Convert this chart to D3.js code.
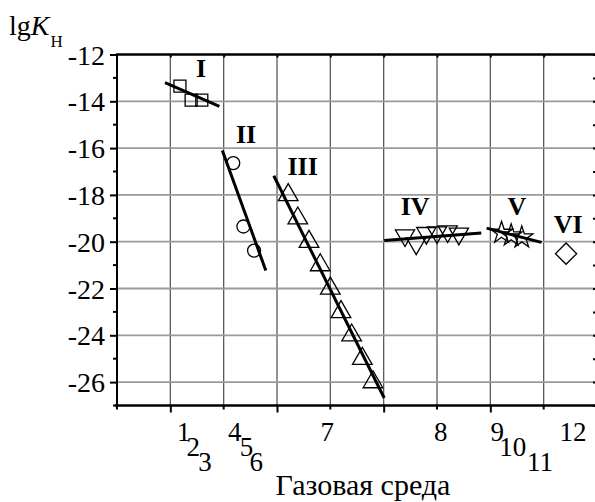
<!DOCTYPE html>
<html>
<head>
<meta charset="utf-8">
<script src="https://cdn.jsdelivr.net/npm/d3@7"></script>
<style>
  html, body { margin: 0; padding: 0; background: #fff; overflow: hidden; }
  text { font-family: "Liberation Serif", "Times New Roman", serif; fill: #000; }
</style>
</head>
<body>
<svg id="chart"></svg>
<script>
const width = 595;
const height = 502;
const serif = "Liberation Serif, Times New Roman, serif";

// data
const yTicks = [-12, -14, -16, -18, -20, -22, -24, -26];
const xTickLabels = ["1", "2", "3", "4", "5", "6", "7", "8", "9", "10", "11", "12"];
const xTickPos = [1.25, 1.43, 1.65, 2.21, 2.43, 2.61, 3.94, 6.07, 7.13, 7.42, 7.93, 8.55];
const xTickRow = [0, 1, 2, 0, 1, 2, 0, 0, 0, 1, 2, 0];

const groupNames = ["I", "II", "III", "IV", "V", "VI"];
const groupLabelX = [1.575, 2.42, 3.48, 5.59, 7.50, 8.46];
const groupLabelY = [-12.95, -15.77, -17.15, -18.86, -18.86, -19.64];

const xI = [1.18, 1.39, 1.59];
const yI = [-13.35, -13.95, -13.95];
const xII = [2.18, 2.37, 2.57];
const yII = [-16.64, -19.35, -20.38];
const xIII = [3.21, 3.39, 3.60, 3.81, 4.00, 4.20, 4.40, 4.60, 4.80];
const yIII = [-18, -19, -20, -21, -22, -23, -24, -25, -26];
const xIV = [5.40, 5.61, 5.80, 6.00, 6.20, 6.41];
const yIV = [-19.73, -20.08, -19.63, -19.60, -19.56, -19.66];
const xV = [7.21, 7.39, 7.59];
const yV = [-19.62, -19.73, -19.82];
const xVI = [8.42];
const yVI = [-20.51];

// fitted lines: [x0, y0, x1, y1]
const fitI = [0.90, -13.20, 1.92, -14.22];
const fitII = [1.975, -16.10, 2.79, -21.23];
const fitIII = [2.94, -17.18, 5.01, -26.68];
const fitIV = [5.01, -19.95, 6.83, -19.63];
const fitV = [6.93, -19.42, 7.96, -20.03];

const svg = d3.select("#chart").attr("width", width).attr("height", height);

const x = d3.scaleLinear().domain([0, 9]).range([117, 597]);
const y = d3.scaleLinear().domain([-27, -12]).range([405.5, 54.5]);

// grid
const grid = svg.append("g");
grid.selectAll("line.v")
  .data(d3.range(1, 9))
  .enter().append("line")
  .attr("x1", d => x(d)).attr("x2", d => x(d))
  .attr("y1", y(-27)).attr("y2", y(-12))
  .attr("stroke", "#5a5a5a").attr("stroke-width", 1.3);
grid.selectAll("line.h")
  .data(yTicks.filter(d => d > -27 && d < -12))
  .enter().append("line")
  .attr("x1", x(0)).attr("x2", x(9))
  .attr("y1", d => y(d)).attr("y2", d => y(d))
  .attr("stroke", "#9a9a9a").attr("stroke-width", 1.8);

// axes
const yMinor = d3.range(-27, -11, 1);
const xAll = d3.range(0, 10, 1);

const axLeft = svg.append("g").attr("transform", `translate(${x(0)},0)`);
axLeft.call(d3.axisLeft(y).tickValues(yTicks).tickSize(7).tickFormat(d => "-" + Math.abs(d)).tickPadding(5));
axLeft.attr("font-family", serif);
axLeft.append("g").selectAll("line")
  .data(yMinor.filter(d => d % 2 !== 0))
  .enter().append("line")
  .attr("x1", -4).attr("x2", 0)
  .attr("y1", d => y(d)).attr("y2", d => y(d))
  .attr("stroke", "#000").attr("stroke-width", 2);
axLeft.selectAll(".tick line").attr("stroke-width", 2);
axLeft.select(".domain").attr("stroke-width", 2).attr("d", `M0,${y(-27) + 1}V${y(-12)}`);
axLeft.selectAll(".tick text")
  .attr("font-size", 28)
  .attr("font-family", serif)
  .attr("dy", "0.34em");

const axBottom = svg.append("g").attr("transform", `translate(0,${y(-27)})`);
axBottom.call(d3.axisBottom(x).tickValues(xAll.filter(d => d % 2 === 1)).tickSize(7).tickFormat(""));
axBottom.append("g").selectAll("line")
  .data(xAll.filter(d => d % 2 === 0))
  .enter().append("line")
  .attr("x1", d => x(d)).attr("x2", d => x(d))
  .attr("y1", 0).attr("y2", 4)
  .attr("stroke", "#000").attr("stroke-width", 2);
axBottom.selectAll(".tick line").attr("stroke-width", 2);
axBottom.select(".domain").attr("stroke-width", 2.5).attr("d", `M${x(0) - 2},0H${x(9)}`);

const axTop = svg.append("g").attr("transform", `translate(0,${y(-12)})`);
axTop.call(d3.axisBottom(x).tickValues(xAll.slice(1, 9)).tickSize(3).tickFormat(""));
axTop.selectAll(".tick line").attr("stroke-width", 2);
axTop.select(".domain").attr("stroke-width", 2.5).attr("d", `M${x(0) - 1},0H${x(9)}`);

const axRight = svg.append("g").attr("transform", `translate(${x(9)},0)`);
axRight.call(d3.axisRight(y).tickValues(yMinor.slice(1)).tickSize(-4).tickFormat(""));
axRight.selectAll(".tick line").attr("stroke-width", 2);
axRight.select(".domain").attr("stroke-width", 2);

// x tick labels, staggered
const rowBase = [441, 456, 471];
svg.append("g").selectAll("text")
  .data(xTickLabels)
  .enter().append("text")
  .attr("x", (d, i) => x(xTickPos[i]))
  .attr("y", (d, i) => rowBase[xTickRow[i]])
  .attr("text-anchor", "middle")
  .attr("font-family", serif)
  .attr("font-size", 27)
  .text(d => d);

// axis titles
svg.append("text")
  .attr("x", 363).attr("y", 495)
  .attr("text-anchor", "middle")
  .attr("font-family", serif)
  .attr("font-size", 30)
  .text("Газовая среда");

const yt = svg.append("text").attr("x", 9).attr("y", 35)
  .attr("font-family", serif).attr("font-size", 28);
yt.append("tspan").text("lg");
yt.append("tspan").attr("font-style", "italic").text("K");
yt.append("tspan").attr("font-size", 17).attr("dy", 12).attr("dx", 1).text("Н");

// fitted lines
const fits = [fitI, fitII, fitIII, fitIV, fitV];
svg.append("g").selectAll("line")
  .data(fits)
  .enter().append("line")
  .attr("x1", d => x(d[0])).attr("y1", d => y(d[1]))
  .attr("x2", d => x(d[2])).attr("y2", d => y(d[3]))
  .attr("stroke", "#000").attr("stroke-width", 3);

// markers
const series = [
  { xs: xI, ys: yI, type: d3.symbolSquare, size: 144, rot: 0 },
  { xs: xII, ys: yII, type: d3.symbolCircle, size: 133, rot: 0 },
  { xs: xIII, ys: yIII, type: d3.symbolTriangle, size: 167, rot: 0 },
  { xs: xIV, ys: yIV, type: d3.symbolTriangle, size: 160, rot: 180 },
  { xs: xV, ys: yV, type: d3.symbolStar, size: 150, rot: 0 },
  { xs: xVI, ys: yVI, type: d3.symbolSquare, size: 225, rot: 45 }
];
series.forEach(s => {
  svg.append("g").selectAll("path")
    .data(s.xs)
    .enter().append("path")
    .attr("d", d3.symbol().type(s.type).size(s.size))
    .attr("transform", (d, i) => `translate(${x(d)},${y(s.ys[i])}) rotate(${s.rot})`)
    .attr("fill", "none")
    .attr("stroke", "#000")
    .attr("stroke-width", 1.3);
});

// group labels
svg.append("g").selectAll("text")
  .data(groupNames)
  .enter().append("text")
  .attr("x", (d, i) => x(groupLabelX[i]))
  .attr("y", (d, i) => y(groupLabelY[i]))
  .attr("text-anchor", "middle")
  .attr("font-family", serif)
  .attr("font-size", 26)
  .attr("font-weight", "bold")
  .text(d => d);
</script>
</body>
</html>
